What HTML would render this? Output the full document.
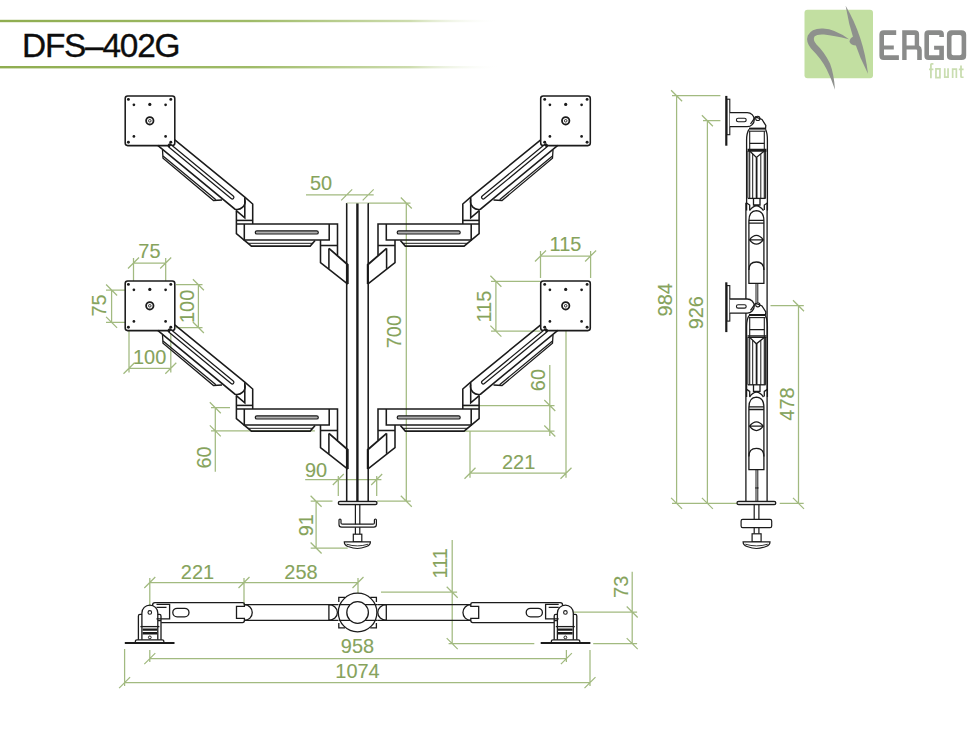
<!DOCTYPE html>
<html><head><meta charset="utf-8">
<style>
html,body{margin:0;padding:0;background:#fff;width:980px;height:735px;overflow:hidden}
svg{position:absolute;left:0;top:0;display:block}
text{font-family:"Liberation Sans",sans-serif}
</style></head><body>
<svg width="980" height="735" viewBox="0 0 980 735">
<defs>
<linearGradient id="hl" x1="0" x2="1" y1="0" y2="0">
<stop offset="0" stop-color="#8fad50"/>
<stop offset="0.5" stop-color="#9fbb68"/>
<stop offset="0.82" stop-color="#cddcae"/>
<stop offset="1" stop-color="#ffffff" stop-opacity="0"/>
</linearGradient>

<g id="arm" fill="none" stroke="#1b1b1b" stroke-width="1.55" stroke-linejoin="miter">
  <!-- plate -->
  <rect x="125.2" y="96" width="49.6" height="49.6" rx="2.5" fill="#fff"/>
  <g fill="#1b1b1b" stroke="none">
    <circle cx="128.4" cy="99.4" r="1.45"/><circle cx="170.8" cy="99.4" r="1.45"/>
    <circle cx="128.4" cy="142.2" r="1.45"/><circle cx="170.8" cy="142.2" r="1.45"/>
    <circle cx="133.9" cy="104.8" r="1.35"/><circle cx="165.6" cy="104.8" r="1.35"/>
    <circle cx="133.9" cy="136.4" r="1.35"/><circle cx="165.6" cy="136.4" r="1.35"/>
    <circle cx="149.8" cy="104.4" r="1.6"/>
  </g>
  <circle cx="149.8" cy="120.8" r="3.7" stroke-width="1.8"/>
  <circle cx="149.8" cy="120.8" r="1.3" stroke-width="0.9"/>
  <!-- diagonal arm -->
  <path d="M174.8,139.8 L244.8,197.2 L252.7,204 L252.7,224"/>
  <path d="M157.7,145.3 L235,209.2 A8,8 0 0 0 244.8,199.5"/>
  <path d="M244.8,197.2 L244.8,217.8 L236,210.3"/>
  <!-- slot -->
  <path d="M169.8,145.8 L232.2,197.3" stroke-width="4.6" stroke-linecap="round"/>
  <path d="M171,146.8 L232.2,197.3" stroke="#fff" stroke-width="2.1" stroke-linecap="round"/>
  <!-- channel under arm -->
  <path d="M162.5,150 L163,158.2 L213.5,200.5 L222,200" stroke-width="1.3"/>
  <path d="M163,156 L215.9,199.7" stroke-width="1.3"/>
  <!-- elbow -->
  <path d="M236.4,210.8 L236.4,233.7 L251.4,246.1 L310.2,246.1 L315.1,240.6"/>
  <path d="M236.4,220.4 L252.7,220.4"/>
  <path d="M236.4,223.9 L337.5,223.9 L337.5,255.2"/>
  <path d="M244.3,224 L244.3,239.9 L329.2,239.9 L329.2,224"/>
  <path d="M248,243.3 L313,243.3" stroke-width="1"/>
  <rect x="255.3" y="230.8" width="63" height="3.2" rx="1.6" stroke-width="1.2" fill="#b0b0b0"/>
  <!-- bracket -->
  <path d="M320.5,240 L320.5,262.7 L347.8,284.1"/>
  <path d="M320.5,245.5 L337.5,245.5"/>
  <path d="M328.9,248.4 L328.9,268.8"/>
  <path d="M328.9,248.4 L347.8,264.7 L347.8,284.1" stroke-width="1.8"/>
</g>


<g id="sideunit" fill="none" stroke="#1b1b1b" stroke-width="1.3">
  <path d="M726.3,95.9 L726.3,145.7" stroke-width="2.2"/>
  <rect x="726.8" y="99.2" width="3" height="35.5" stroke-width="1.1"/>
  <path d="M729.8,112.6 L747.2,112.6 A7.05,7.05 0 0 1 747.2,126.7 L729.8,126.7" fill="#fff"/>
  <rect x="736.4" y="118.3" width="9.8" height="3.4" rx="1.7" stroke-width="1.1"/>
  <circle cx="757.8" cy="118.4" r="2.1" stroke-width="1.1"/>
  <path d="M750.5,124 L755.5,116.8 L762,119.5 L765.8,125.5 L765.5,129.3"/>
  <path d="M749,128.6 L765.5,128.6" stroke-width="2"/><path d="M749,131.2 L765.5,131.2" stroke-width="1.1"/>
  <path d="M749,129.3 Q746.6,133 746.6,140 L746.6,210.6 M765.5,129.3 Q767.4,133 767.4,140 L767.4,210.6"/>
  <path d="M749.7,131.2 L749.7,198.4 M764.3,131.2 L764.3,198.4" stroke-width="1.1"/>
  <path d="M749.7,143.3 L764.3,143.3 M747.5,149.5 L766.5,149.5 M747.5,151 L766.5,151"/>
  <path d="M749.7,151 L756.4,157.4 L764.3,151"/>
  <path d="M752.7,154 L752.7,198.4 M760.8,154 L760.8,198.4 M747.9,151 L747.9,198.4 M765.6,151 L765.6,198.4" stroke-width="1"/>
  <path d="M756.6,157.4 L756.6,198.4" stroke-width="1.8"/>
  <path d="M747.9,198.4 L765.6,198.4"/>
  <path d="M753.5,198.4 L753.5,205 L760,205 L760,198.4 M749.5,210.6 Q756.5,201 763.5,210.6"/>
  <path d="M746.6,203 L749.7,205 L749.7,210 M767.4,203 L764.3,205 L764.3,210"/>
  <!-- body -->
  <path d="M748.9,283.3 L748.9,221 Q748.9,211 756.4,210.7 Q763.9,211 763.9,221 L763.9,283.3 Z"/>
  <path d="M748.9,220.4 L763.9,220.4 M748.9,223.1 L763.9,223.1"/>
  <path d="M749.5,239.8 Q756.4,231 763.3,239.8 Q756.4,248.5 749.5,239.8 Z M749.5,239.8 L763.3,239.8"/>
  <path d="M748.9,270 Q748.9,262 756.4,262 Q763.9,262 763.9,270"/>
  <path d="M756,283.3 L756,302.5 M757.8,283.3 L757.8,302.5" stroke-width="1"/>
</g>


<g id="bhalf" fill="none" stroke="#1b1b1b" stroke-width="1.3">
  <!-- clamp -->
  <path d="M124.8,643.1 L174.5,643.1" stroke-width="2"/>
  <path d="M135.4,643 L135.4,641 Q135.4,639.8 137,639.8 L162.2,639.8 Q163.8,639.8 163.8,641 L163.8,643"/>
  <path d="M138.4,639.8 L138.4,616 Q138.4,614.3 140,614.3 L142,614.3 M161,639.8 L161,616 Q161,614.3 159.4,614.3 L157.6,614.3"/>
  <path d="M141.9,639.8 L141.9,613 A7.95,7.95 0 0 1 157.8,613 L157.8,639.8"/>
  <path d="M140.4,626.6 L159.4,626.6"/>
  <circle cx="149.8" cy="612.4" r="1.8" stroke-width="1.1"/>
  <path d="M142.6,629.6 L157.2,629.6 M142.6,633.2 L157.2,633.2" stroke-width="2.4"/>
  <circle cx="149.8" cy="637.4" r="1.4" stroke-width="1"/>
  <!-- arm 1 -->
  <path d="M152.6,606 L152.6,605 Q152.6,602.7 155,602.7 L242.5,602.7 Q244.4,602.7 244.4,604.5 L244.4,606.4 L236.5,606.4 L236.5,618.4 L244.4,618.4 L244.4,620.6 Q244.4,622.6 242.5,622.6 L161.2,622.6"/>
  <path d="M156.5,604.3 L169.6,604.3 L169.6,618.8 L156.5,618.8 M156.5,607.3 L166.5,607.3 M158,620.6 L161,620.6"/>
  <rect x="172.8" y="608.3" width="16.2" height="8.6" rx="4.3"/>
  <!-- arm 2 -->
  <path d="M244.4,604.7 L338,604.7 M244.4,620.4 L338,620.4"/>
  <path d="M244.4,604.7 A7.85,7.85 0 0 1 244.4,620.4"/>
  <path d="M328.9,604.7 L328.9,620.4 M328.9,604.7 A8.5,7.85 0 0 1 328.9,620.4"/>
  <!-- hub left half -->
  <path d="M338.8,602 L338.8,597.3 L345,597.3 M338.8,623 L338.8,627.8 L345,627.8"/>
</g>

</defs>
<!-- header -->
<rect x="0" y="19.8" width="500" height="2.4" fill="url(#hl)"/>
<rect x="0" y="66" width="500" height="2.4" fill="url(#hl)"/>
<text x="22" y="56.8" font-size="33.4" fill="#0d0d0d" stroke="#0d0d0d" stroke-width="0.35" textLength="158.5" lengthAdjust="spacing">DFS–402G</text>
<!-- logo -->


<g>
<rect x="804.5" y="9.8" width="68.5" height="68.4" rx="3" fill="#c2dfa1"/>
<g fill="#8e918d">
  <path d="M845.6,5.8 Q863.5,36 868,73.7 Q851.5,42 845.6,5.8 Z"/>
  <path d="M849,39.2 Q835,29 823,28.5 Q811.5,28 807.8,35.5 Q805.5,41.5 811,48.5 Q821.5,59 826.5,69 Q831.5,79 835,89.8 Q834,74 830,63.5 Q824,51.5 816.5,44.5 Q812.5,40 814.5,36.5 Q817,34 824,34.5 Q834,35.5 849,39.2 Z"/>
  <path d="M855.5,35.8 Q849.5,37.5 849.5,41.8 Q850.5,45.5 856.5,45.5 Z"/>
</g>
<g fill="#8a8b8a" fill-rule="evenodd">
  <path d="M879.4,34.5 Q879.4,30.2 883.7,30.2 L896.2,30.2 L896.2,35 L884,35 L884,45.4 L893.8,45.4 L893.8,49.5 L884,49.5 L884,55.3 L898.9,55.3 L898.9,60.1 L883.7,60.1 Q879.4,60.1 879.4,55.8 Z"/>
  <path d="M902.2,30.2 L915,30.2 Q919.1,30.2 919.1,34.3 L919.1,45.6 Q921.8,47 921.8,50 L921.8,60.1 L917.2,60.1 L917.2,50.5 Q917.2,49.5 916,49.5 L906.6,49.5 L906.6,60.1 L902.2,60.1 Z M906.6,35 L906.6,45.4 L914.7,45.4 L914.7,35 Z"/>
  <path d="M928.4,30.2 L940,30.2 Q943.9,30.2 943.9,34 L943.9,37 L939.3,37 L939.3,35 L929,35 L929,55.3 L939.3,55.3 L939.3,49.8 L934.1,49.8 L934.1,45.7 L943.9,45.7 L943.9,60.1 L928.4,60.1 Q924.4,60.1 924.4,56 L924.4,34.3 Q924.4,30.2 928.4,30.2 Z"/>
  <path d="M951.5,30.2 L961.6,30.2 Q966.2,30.2 966.2,34.8 L966.2,55.5 Q966.2,60.1 961.6,60.1 L951.5,60.1 Q946.9,60.1 946.9,55.5 L946.9,34.8 Q946.9,30.2 951.5,30.2 Z M953.3,35 Q951.5,35 951.5,36.8 L951.5,53.5 Q951.5,55.3 953.3,55.3 L959.8,55.3 Q961.6,55.3 961.6,53.5 L961.6,36.8 Q961.6,35 959.8,35 Z"/>
</g>
<g fill="#c9ddb0">
  <path d="M930,78.2 L930,64.8 Q930,63.1 931.7,63.1 L933.4,63.1 L933.4,64.8 L931.8,64.8 L931.8,68.6 L933.4,68.6 L933.4,70.3 L931.8,70.3 L931.8,78.2 Z M929,68.6 L930,68.6 L930,70.3 L929,70.3 Z"/>
  <path d="M935.1,68.1 L940.8,68.1 L940.8,78.4 L935.1,78.4 Z M936.8,69.8 L936.8,76.7 L939.1,76.7 L939.1,69.8 Z"/>
  <path d="M943.9,68.3 L945.6,68.3 L945.6,76.3 L947.2,76.3 L947.2,68.3 L948.9,68.3 L948.9,78.1 L943.9,78.1 Z"/>
  <path d="M951.8,68.3 L957.2,68.3 L957.2,78.1 L955.5,78.1 L955.5,70 L953.5,70 L953.5,78.1 L951.8,78.1 Z"/>
  <path d="M960.1,65.5 L961.9,65.5 L961.9,68.6 L963.6,68.6 L963.6,70.3 L961.9,70.3 L961.9,76.4 L963.6,76.4 L963.6,78.1 L961.7,78.1 Q960.1,78.1 960.1,76.5 L960.1,70.3 L958.8,70.3 L958.8,68.6 L960.1,68.6 Z"/>
</g>
</g>

<g fill="none" stroke="#a2ba80" stroke-width="1.25">
<path d="M306.0,194.9 L373.7,194.9 M341.2,200.4 L352.2,189.4 M362.7,200.4 L373.7,189.4 "/>
<path d="M406.3,203.0 L406.3,501.2 M400.8,197.5 L411.8,208.5 M400.8,495.7 L411.8,506.7 M368.2,203.0 L410.5,203.0 M377.0,501.2 L410.8,501.2 "/>
<path d="M305.2,479.5 L381.4,479.5 M332.8,485.0 L343.8,474.0 M371.2,485.0 L382.2,474.0 M338.3,476.0 L338.3,496.0 M376.7,476.0 L376.7,496.0 "/>
<path d="M316.1,501.2 L316.1,548.0 M310.6,495.7 L321.6,506.7 M310.6,542.5 L321.6,553.5 M310.7,501.2 L332.5,501.2 M310.7,548.0 L347.7,548.0 "/>
<path d="M133.5,263.0 L165.7,263.0 M128.0,268.5 L139.0,257.5 M160.2,268.5 L171.2,257.5 M133.5,258.0 L133.5,281.0 M165.7,258.0 L165.7,281.0 "/>
<path d="M111.6,290.0 L111.6,322.4 M106.1,284.5 L117.1,295.5 M106.1,316.9 L117.1,327.9 M106.0,290.0 L125.0,290.0 M106.0,322.4 L125.0,322.4 "/>
<path d="M198.4,284.7 L198.4,327.5 M192.9,279.2 L203.9,290.2 M192.9,322.0 L203.9,333.0 M176.0,284.7 L202.5,284.7 M176.0,327.5 L202.5,327.5 "/>
<path d="M129.0,368.3 L170.8,368.3 M123.5,373.8 L134.5,362.8 M165.3,373.8 L176.3,362.8 M129.0,331.0 L129.0,372.5 M170.8,331.0 L170.8,372.5 "/>
<path d="M215.3,407.7 L215.3,471.7 M209.8,402.2 L220.8,413.2 M209.8,425.4 L220.8,436.4 M211.0,407.7 L230.0,407.7 M211.0,430.9 L314.9,430.9 "/>
<path d="M540.5,256.0 L590.6,256.0 M535.0,261.5 L546.0,250.5 M585.1,261.5 L596.1,250.5 M540.5,251.0 L540.5,278.0 M590.6,251.0 L590.6,278.0 "/>
<path d="M495.9,281.3 L495.9,331.1 M490.4,275.8 L501.4,286.8 M490.4,325.6 L501.4,336.6 M491.0,281.3 L540.5,281.3 M491.0,331.1 L540.5,331.1 "/>
<path d="M549.8,365.1 L549.8,436.0 M544.3,400.0 L555.3,411.0 M544.3,425.5 L555.3,436.5 M463.1,405.5 L554.5,405.5 M464.3,431.0 L554.5,431.0 "/>
<path d="M470.0,473.2 L566.0,473.2 M464.5,478.7 L475.5,467.7 M560.5,478.7 L571.5,467.7 M470.0,431.0 L470.0,477.7 M566.0,325.8 L566.0,477.7 "/>
<path d="M676.6,95.7 L676.6,503.4 M671.1,90.2 L682.1,101.2 M671.1,497.9 L682.1,508.9 M672.0,95.7 L720.4,95.7 M672.0,503.4 L737.0,503.4 "/>
<path d="M707.4,120.7 L707.4,503.4 M701.9,115.2 L712.9,126.2 M701.9,497.9 L712.9,508.9 M703.0,120.7 L720.4,120.7 "/>
<path d="M798.5,305.7 L798.5,503.4 M793.0,300.2 L804.0,311.2 M793.0,497.9 L804.0,508.9 M770.5,305.7 L803.8,305.7 M779.7,503.4 L803.7,503.4 "/>
<path d="M149.8,582.5 L358.0,582.5 M144.3,588.0 L155.3,577.0 M238.5,588.0 L249.5,577.0 M352.5,588.0 L363.5,577.0 M149.8,578.0 L149.8,606.3 M244.0,578.0 L244.0,605.0 M358.0,578.0 L358.0,606.0 "/>
<path d="M452.2,540.0 L452.2,643.6 M446.7,586.7 L457.7,597.7 M446.7,638.1 L457.7,649.1 M381.0,592.2 L457.1,592.2 M448.6,643.6 L534.3,643.6 "/>
<path d="M632.2,571.8 L632.2,643.6 M626.7,606.5 L637.7,617.5 M626.7,638.1 L637.7,649.1 M572.9,612.0 L637.1,612.0 M593.2,643.6 L637.1,643.6 "/>
<path d="M149.8,658.6 L566.4,658.6 M144.3,664.1 L155.3,653.1 M560.9,664.1 L571.9,653.1 M149.8,649.9 L149.8,662.0 M566.4,650.0 L566.4,662.0 "/>
<path d="M124.6,682.6 L590.0,682.6 M119.1,688.1 L130.1,677.1 M584.5,688.1 L595.5,677.1 M124.6,649.1 L124.6,686.0 M590.0,650.0 L590.0,686.0 "/>
</g>
<g fill="#86a35c" stroke="#86a35c" stroke-width="0.12" font-size="21">
<text transform="translate(321,190.2) scale(0.95,1)" text-anchor="middle">50</text>
<text transform="translate(401.1,331.6) rotate(-90) scale(0.95,1)" text-anchor="middle">700</text>
<text transform="translate(316.1,477.3) scale(0.95,1)" text-anchor="middle">90</text>
<text transform="translate(313.3,525.2) rotate(-90) scale(0.95,1)" text-anchor="middle">91</text>
<text transform="translate(149.4,257.5) scale(0.95,1)" text-anchor="middle">75</text>
<text transform="translate(105.8,305.5) rotate(-90) scale(0.95,1)" text-anchor="middle">75</text>
<text transform="translate(194.0,306.4) rotate(-90) scale(0.95,1)" text-anchor="middle">100</text>
<text transform="translate(149.6,363.7) scale(0.95,1)" text-anchor="middle">100</text>
<text transform="translate(210.5,457.5) rotate(-90) scale(0.95,1)" text-anchor="middle">60</text>
<text transform="translate(565.5,251.1) scale(0.95,1)" text-anchor="middle">115</text>
<text transform="translate(491.1,306.6) rotate(-90) scale(0.95,1)" text-anchor="middle">115</text>
<text transform="translate(544.5,380.1) rotate(-90) scale(0.95,1)" text-anchor="middle">60</text>
<text transform="translate(518.6,469.1) scale(0.95,1)" text-anchor="middle">221</text>
<text transform="translate(672.0,299.8) rotate(-90) scale(0.95,1)" text-anchor="middle">984</text>
<text transform="translate(702.6,312.7) rotate(-90) scale(0.95,1)" text-anchor="middle">926</text>
<text transform="translate(793.6,404) rotate(-90) scale(0.95,1)" text-anchor="middle">478</text>
<text transform="translate(197.5,578.5) scale(0.95,1)" text-anchor="middle">221</text>
<text transform="translate(301,578.5) scale(0.95,1)" text-anchor="middle">258</text>
<text transform="translate(446.6,563.3) rotate(-90) scale(0.95,1)" text-anchor="middle">111</text>
<text transform="translate(627.9,586.8) rotate(-90) scale(0.95,1)" text-anchor="middle">73</text>
<text transform="translate(357.5,653.2) scale(0.95,1)" text-anchor="middle">958</text>
<text transform="translate(357.5,678.2) scale(0.95,1)" text-anchor="middle">1074</text>
</g>
<!-- front view -->
<use href="#arm"/>
<use href="#arm" transform="translate(0,185)"/>
<use href="#arm" transform="translate(715.5,0) scale(-1,1)"/>
<use href="#arm" transform="translate(715.5,185) scale(-1,1)"/>
<g fill="none" stroke="#1b1b1b" stroke-width="1.55">
  <path d="M346.7,203 L346.7,501.2 M368.2,203 L368.2,501.2"/>
  <path d="M357.4,203 L357.4,501.2" stroke-width="2.4"/>
</g>


<g fill="none" stroke="#1b1b1b" stroke-width="1.3">
  <path d="M346.7,203 L368.2,203" stroke="#b8c9a0" stroke-width="1"/>
  <rect x="338.3" y="501.4" width="38.7" height="3.3" rx="1.6" fill="#d8d8d8" stroke-width="1.3"/>
  <path d="M355.4,504.7 L355.4,534.2 M359.8,504.7 L359.8,534.2" stroke-width="1.2"/>
  <path d="M339,520 A1,1 0 0 1 341,520 L341,523 Q341,524.2 342.5,524.2 L373,524.2 Q374.4,524.2 374.4,523 L374.4,520 A1,1 0 0 1 376.4,520 L376.4,524.5 Q376.4,527.2 373.7,527.2 L341.7,527.2 Q339,527.2 339,524.5 Z" fill="#fff" stroke-width="1.2"/>
  <rect x="353.3" y="534.2" width="8.5" height="7.7" fill="#fff" stroke-width="1.2"/>
  <path d="M344.3,541.9 L370.4,541.9 Q370.4,545 366.5,546.5 Q361,548.5 357.4,548.5 Q353.5,548.5 348,546.5 Q344.3,545 344.3,541.9 Z" fill="#fff" stroke-width="1.2"/>
  <path d="M346.5,544.2 Q357.4,547.6 368.2,544.2" stroke-width="0.9"/>
</g>


<path d="M745.9,202.7 L745.9,501.2 M767.1,202.7 L767.1,501.2" fill="none" stroke="#1b1b1b" stroke-width="1.3"/>
<use href="#sideunit"/>
<use href="#sideunit" transform="translate(0,186.4)"/>
<g fill="none" stroke="#1b1b1b" stroke-width="1.3">
  <path d="M756,487 L756,501.2 M757.8,487 L757.8,501.2" stroke-width="1"/>
  <rect x="737" y="501.4" width="38.8" height="3.3" rx="1.6" fill="#d8d8d8" stroke-width="1.3"/>
  <path d="M754.2,504.7 L754.2,519.3 M758.9,504.7 L758.9,519.3 M754.2,527.7 L754.2,533.8 M758.9,527.7 L758.9,533.8" stroke-width="1.2"/>
  <rect x="741.1" y="519.3" width="30.6" height="8.4" rx="1.6" fill="#fff" stroke-width="1.2"/>
  <rect x="752.1" y="533.8" width="9" height="8.1" fill="#fff" stroke-width="1.2"/>
  <path d="M743.1,541.9 L770,541.9 Q770,545 766,546.5 Q760.5,548.5 756.5,548.5 Q752.5,548.5 747,546.5 Q743.1,545 743.1,541.9 Z" fill="#fff" stroke-width="1.2"/>
  <path d="M745.3,544.2 Q756.5,547.6 767.8,544.2" stroke-width="0.9"/>
</g>


<use href="#bhalf"/>
<use href="#bhalf" transform="translate(715.2,0) scale(-1,1)"/>
<g fill="none" stroke="#1b1b1b" stroke-width="1.3">
  <circle cx="357.6" cy="612.5" r="19.3" fill="#fff"/>
  <path d="M338.5,604.7 L377,604.7 M338.5,620.4 L377,620.4"/>
  <circle cx="357.6" cy="612.5" r="10.8" fill="#fff"/>
</g>

</svg></body></html>
